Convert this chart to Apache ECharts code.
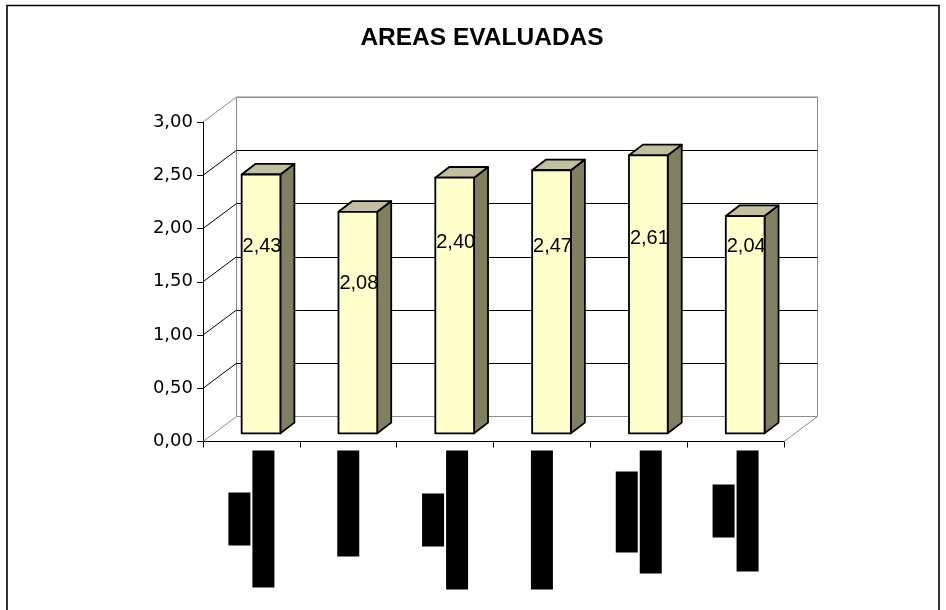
<!DOCTYPE html>
<html>
<head>
<meta charset="utf-8">
<script src="https://cdn.jsdelivr.net/npm/echarts@6/dist/echarts.min.js"></script>
<style>
  html, body { margin: 0; padding: 0; background: #fff; }
  #chart { width: 946px; height: 610px; }
</style>
</head>
<body>
<div id="chart"></div>
<script>
// ---- data ----
const categories = ['Área 1', 'Área 2', 'Área 3', 'Área 4', 'Área 5', 'Área 6'];
const scores = [2.43, 2.08, 2.40, 2.47, 2.61, 2.04];
const yTickLabels = ['0,00', '0,50', '1,00', '1,50', '2,00', '2,50', '3,00'];
const yStep = 0.5;
const yMax = 3;

// ---- layout / styling ----
const FRONT = { left: 203, top: 122, width: 581, height: 319.5 };   // front plane of the 3D box
const DEPTH = { dx: 33.5, dy: -25 };                                   // oblique depth of the box
const BAR = { widthRatio: 0.4, offX: 9.6, offY: -8.2, depthX: 14, depthY: -10.7 };
const COLORS = { front: '#FFFFCC', side: '#808060', top: '#C0C0A0', edge: '#000', wall: '#8c8c8c' };
// height (in axis units) at which each value label sits inside its column
const labelLevels = [1.75, 1.41, 1.79, 1.75, 1.83, 1.75];
// rotated category labels are rendered as solid dark blocks (length of each line, px)
const labelBlocks = [[53, 137], [106], [53, 139], [139], [81, 123], [53, 121]];

const fmt = v => v.toFixed(2).replace('.', ',');

const blockRich = {};
labelBlocks.flat().forEach(w => {
  blockRich['w' + w] = {
    width: w, height: 22, lineHeight: 24, align: 'center',
    backgroundColor: '#000', color: '#000', fontSize: 14
  };
});

const yTicks = yTickLabels.map((_, i) => i * yStep);

function renderWalls(params, api) {
  const v = api.value(1);
  const cs = params.coordSys;
  const y = api.coord([0, v])[1];
  const edge = (v === 0 || v === yMax);
  const stroke = edge ? COLORS.wall : '#000';
  const children = [{
    type: 'line',
    shape: { x1: cs.x, y1: y, x2: cs.x + DEPTH.dx, y2: y + DEPTH.dy },
    style: { stroke: stroke, lineWidth: 1 }
  }];
  if (v === 0) {
    children.push({
      type: 'line',
      shape: { x1: cs.x + cs.width, y1: y, x2: cs.x + cs.width + DEPTH.dx, y2: y + DEPTH.dy },
      style: { stroke: COLORS.wall, lineWidth: 1 }
    });
  }
  return { type: 'group', children: children };
}

function renderColumn(params, api) {
  const i = api.value(0);
  const v = api.value(1);
  const base = api.coord([i, 0]);
  const top = api.coord([i, v]);
  const bw = api.size([1, 0])[0] * BAR.widthRatio;
  const x0 = base[0] - bw / 2 + BAR.offX;
  const x1 = x0 + bw;
  const yb = base[1] + BAR.offY;
  const yt = top[1] + BAR.offY;
  const dx = BAR.depthX, dy = BAR.depthY;
  const edge = { stroke: COLORS.edge, lineWidth: 1.8, lineJoin: 'round' };
  const labelY = api.coord([i, labelLevels[params.dataIndex]])[1] + BAR.offY;
  return {
    type: 'group',
    children: [
      { type: 'polygon', shape: { points: [[x1, yb], [x1 + dx, yb + dy], [x1 + dx, yt + dy], [x1, yt]] },
        style: Object.assign({ fill: COLORS.side }, edge) },
      { type: 'polygon', shape: { points: [[x0, yt], [x1, yt], [x1 + dx, yt + dy], [x0 + dx, yt + dy]] },
        style: Object.assign({ fill: COLORS.top }, edge) },
      { type: 'rect', shape: { x: x0, y: yt, width: bw, height: yb - yt },
        style: Object.assign({ fill: COLORS.front }, edge) },
      { type: 'text',
        style: { text: fmt(v), x: (x0 + x1) / 2 + 1, y: labelY, align: 'center', verticalAlign: 'middle',
                 fontFamily: 'Liberation Sans', fontSize: 20, fill: '#000' } }
    ]
  };
}

const chart = echarts.init(document.getElementById('chart'), null, { renderer: 'canvas' });

const option = {
  animation: false,
  backgroundColor: '#fff',
  title: {
    text: 'AREAS EVALUADAS',
    left: 477, top: 21, textAlign: 'center',
    textStyle: { fontFamily: 'Liberation Sans', fontWeight: 'bold', fontSize: 24.5, color: '#000' }
  },
  graphic: [{
    type: 'rect', silent: true, z: -10,
    shape: { x: 7, y: 5.5, width: 932, height: 640 },
    style: { fill: 'none', stroke: '#000', lineWidth: 1.6 }
  }],
  grid: [
    Object.assign({ outerBoundsMode: 'none' }, FRONT),
    {
      outerBoundsMode: 'none',
      left: FRONT.left + DEPTH.dx, top: FRONT.top + DEPTH.dy,
      width: FRONT.width, height: FRONT.height,
      show: true, borderColor: COLORS.wall, borderWidth: 1, backgroundColor: 'transparent'
    }
  ],
  xAxis: [
    {
      gridIndex: 0, type: 'category', data: categories, boundaryGap: true,
      axisLine: { show: true, lineStyle: { color: '#000', width: 1 } },
      axisTick: { show: true, length: 6, interval: 0, alignWithLabel: false, lineStyle: { color: '#000' } },
      axisLabel: {
        interval: 0, rotate: 90, margin: 9,
        formatter: (val, idx) => labelBlocks[idx].map(w => '{w' + w + '|\u00a0}').join('\n'),
        rich: blockRich
      },
      splitLine: { show: false }
    },
    {
      gridIndex: 1, type: 'category', data: categories, boundaryGap: true,
      axisLine: { show: false }, axisTick: { show: false }, axisLabel: { show: false }, splitLine: { show: false }
    }
  ],
  yAxis: [
    {
      gridIndex: 0, type: 'value', min: 0, max: yMax, interval: yStep,
      axisLine: { show: true, lineStyle: { color: '#000', width: 1 } },
      axisTick: { show: true, length: 6, lineStyle: { color: '#000' } },
      axisLabel: {
        margin: 10, color: '#000', fontFamily: 'DejaVu Sans', fontSize: 18,
        formatter: v => yTickLabels[Math.round(v / yStep)]
      },
      splitLine: { show: false }
    },
    {
      gridIndex: 1, type: 'value', min: 0, max: yMax, interval: yStep,
      axisLine: { show: false }, axisTick: { show: false }, axisLabel: { show: false },
      splitLine: {
        show: true,
        lineStyle: { color: [COLORS.wall, '#000', '#000', '#000', '#000', '#000', COLORS.wall], width: 1 }
      }
    }
  ],
  series: [
    {
      type: 'custom', name: 'walls', xAxisIndex: 0, yAxisIndex: 0, silent: true, z: 1,
      data: yTicks.map(v => [0, v]),
      renderItem: renderWalls
    },
    {
      type: 'custom', name: 'scores', xAxisIndex: 0, yAxisIndex: 0, silent: true, z: 5,
      data: scores.map((v, i) => [i, v]),
      renderItem: renderColumn
    }
  ]
};

chart.setOption(option);
</script>
</body>
</html>
